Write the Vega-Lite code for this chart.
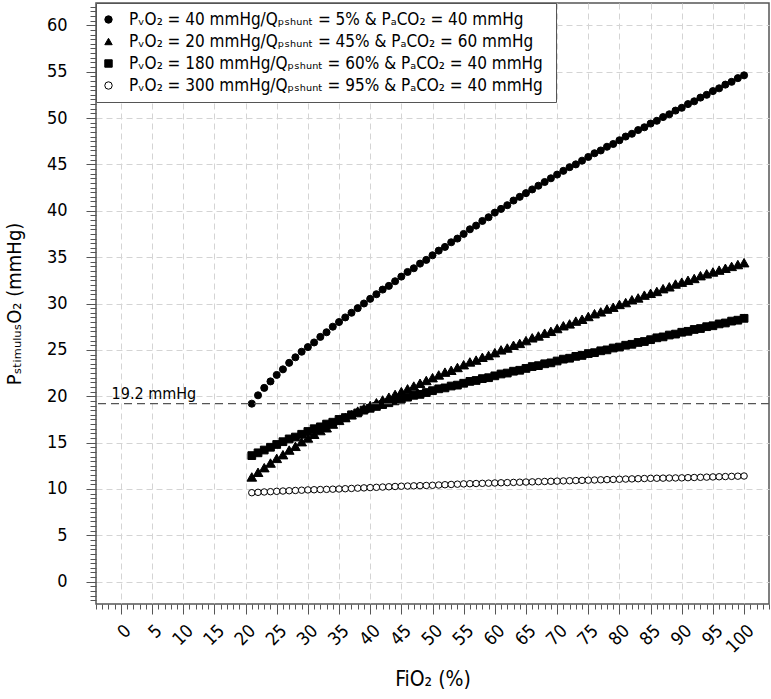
{
"$schema":"https://vega.github.io/schema/vega-lite/v6.json",
"width":673,"height":601,
"autosize":{"type":"none"},
"padding":{"left":96,"top":3,"right":2,"bottom":95},
"config":{
 "font":"DejaVu Sans Condensed, DejaVu Sans, sans-serif",
 "view":{"stroke":"#555","strokeWidth":1.5},
 "axis":{"domain":false,"labelColor":"#000","titleColor":"#000","tickColor":"#555","gridColor":"#d4d4d4","gridDash":[6,4],"gridWidth":1,"titleFontWeight":"normal"},
 "legend":{"orient":"top-left","offset":0,"padding":8,"fillColor":"#fff","strokeColor":"#555","labelFontSize":17,"labelLimit":1000,"rowPadding":4,"labelOffset":12,"symbolOffset":-4,"symbolSize":55,"symbolStrokeWidth":1}
},
"data":{"values":[
{"f":21,"s":"a","v":19.2},{"f":22,"s":"a","v":20.1},{"f":23,"s":"a","v":20.9},{"f":24,"s":"a","v":21.6},{"f":25,"s":"a","v":22.3},{"f":26,"s":"a","v":22.9},{"f":27,"s":"a","v":23.6},{"f":28,"s":"a","v":24.2},{"f":29,"s":"a","v":24.8},{"f":30,"s":"a","v":25.3},
{"f":31,"s":"a","v":25.8},{"f":32,"s":"a","v":26.4},{"f":33,"s":"a","v":26.9},{"f":34,"s":"a","v":27.5},{"f":35,"s":"a","v":28.0},{"f":36,"s":"a","v":28.5},{"f":37,"s":"a","v":29.0},{"f":38,"s":"a","v":29.5},{"f":39,"s":"a","v":30.0},{"f":40,"s":"a","v":30.5},
{"f":41,"s":"a","v":31.0},{"f":42,"s":"a","v":31.5},{"f":43,"s":"a","v":31.9},{"f":44,"s":"a","v":32.4},{"f":45,"s":"a","v":32.9},{"f":46,"s":"a","v":33.4},{"f":47,"s":"a","v":33.8},{"f":48,"s":"a","v":34.3},{"f":49,"s":"a","v":34.7},{"f":50,"s":"a","v":35.2},
{"f":51,"s":"a","v":35.7},{"f":52,"s":"a","v":36.1},{"f":53,"s":"a","v":36.6},{"f":54,"s":"a","v":37.0},{"f":55,"s":"a","v":37.5},{"f":56,"s":"a","v":38.0},{"f":57,"s":"a","v":38.4},{"f":58,"s":"a","v":38.9},{"f":59,"s":"a","v":39.3},{"f":60,"s":"a","v":39.8},
{"f":61,"s":"a","v":40.2},{"f":62,"s":"a","v":40.6},{"f":63,"s":"a","v":41.1},{"f":64,"s":"a","v":41.5},{"f":65,"s":"a","v":41.9},{"f":66,"s":"a","v":42.3},{"f":67,"s":"a","v":42.7},{"f":68,"s":"a","v":43.1},{"f":69,"s":"a","v":43.5},{"f":70,"s":"a","v":43.9},
{"f":71,"s":"a","v":44.3},{"f":72,"s":"a","v":44.7},{"f":73,"s":"a","v":45.0},{"f":74,"s":"a","v":45.4},{"f":75,"s":"a","v":45.8},{"f":76,"s":"a","v":46.2},{"f":77,"s":"a","v":46.5},{"f":78,"s":"a","v":46.9},{"f":79,"s":"a","v":47.2},{"f":80,"s":"a","v":47.6},
{"f":81,"s":"a","v":48.0},{"f":82,"s":"a","v":48.3},{"f":83,"s":"a","v":48.7},{"f":84,"s":"a","v":49.0},{"f":85,"s":"a","v":49.4},{"f":86,"s":"a","v":49.7},{"f":87,"s":"a","v":50.1},{"f":88,"s":"a","v":50.4},{"f":89,"s":"a","v":50.8},{"f":90,"s":"a","v":51.1},
{"f":91,"s":"a","v":51.5},{"f":92,"s":"a","v":51.8},{"f":93,"s":"a","v":52.2},{"f":94,"s":"a","v":52.5},{"f":95,"s":"a","v":52.9},{"f":96,"s":"a","v":53.2},{"f":97,"s":"a","v":53.6},{"f":98,"s":"a","v":53.9},{"f":99,"s":"a","v":54.3},{"f":100,"s":"a","v":54.6},
{"f":21,"s":"b","v":11.3},{"f":22,"s":"b","v":11.8},{"f":23,"s":"b","v":12.3},{"f":24,"s":"b","v":12.8},{"f":25,"s":"b","v":13.3},{"f":26,"s":"b","v":13.7},{"f":27,"s":"b","v":14.2},{"f":28,"s":"b","v":14.6},{"f":29,"s":"b","v":15.1},{"f":30,"s":"b","v":15.5},
{"f":31,"s":"b","v":15.9},{"f":32,"s":"b","v":16.3},{"f":33,"s":"b","v":16.6},{"f":34,"s":"b","v":17.0},{"f":35,"s":"b","v":17.4},{"f":36,"s":"b","v":17.7},{"f":37,"s":"b","v":18.0},{"f":38,"s":"b","v":18.4},{"f":39,"s":"b","v":18.7},{"f":40,"s":"b","v":19.0},
{"f":41,"s":"b","v":19.3},{"f":42,"s":"b","v":19.6},{"f":43,"s":"b","v":19.9},{"f":44,"s":"b","v":20.2},{"f":45,"s":"b","v":20.5},{"f":46,"s":"b","v":20.8},{"f":47,"s":"b","v":21.1},{"f":48,"s":"b","v":21.4},{"f":49,"s":"b","v":21.7},{"f":50,"s":"b","v":22.0},
{"f":51,"s":"b","v":22.3},{"f":52,"s":"b","v":22.6},{"f":53,"s":"b","v":22.8},{"f":54,"s":"b","v":23.1},{"f":55,"s":"b","v":23.4},{"f":56,"s":"b","v":23.7},{"f":57,"s":"b","v":23.9},{"f":58,"s":"b","v":24.2},{"f":59,"s":"b","v":24.4},{"f":60,"s":"b","v":24.7},
{"f":61,"s":"b","v":25.0},{"f":62,"s":"b","v":25.2},{"f":63,"s":"b","v":25.5},{"f":64,"s":"b","v":25.7},{"f":65,"s":"b","v":26.0},{"f":66,"s":"b","v":26.3},{"f":67,"s":"b","v":26.5},{"f":68,"s":"b","v":26.8},{"f":69,"s":"b","v":27.0},{"f":70,"s":"b","v":27.3},
{"f":71,"s":"b","v":27.6},{"f":72,"s":"b","v":27.8},{"f":73,"s":"b","v":28.1},{"f":74,"s":"b","v":28.3},{"f":75,"s":"b","v":28.6},{"f":76,"s":"b","v":28.9},{"f":77,"s":"b","v":29.1},{"f":78,"s":"b","v":29.4},{"f":79,"s":"b","v":29.6},{"f":80,"s":"b","v":29.9},
{"f":81,"s":"b","v":30.1},{"f":82,"s":"b","v":30.4},{"f":83,"s":"b","v":30.6},{"f":84,"s":"b","v":30.9},{"f":85,"s":"b","v":31.1},{"f":86,"s":"b","v":31.3},{"f":87,"s":"b","v":31.6},{"f":88,"s":"b","v":31.8},{"f":89,"s":"b","v":32.1},{"f":90,"s":"b","v":32.3},
{"f":91,"s":"b","v":32.5},{"f":92,"s":"b","v":32.7},{"f":93,"s":"b","v":33.0},{"f":94,"s":"b","v":33.2},{"f":95,"s":"b","v":33.4},{"f":96,"s":"b","v":33.6},{"f":97,"s":"b","v":33.8},{"f":98,"s":"b","v":34.0},{"f":99,"s":"b","v":34.2},{"f":100,"s":"b","v":34.4},
{"f":21,"s":"c","v":13.6},{"f":22,"s":"c","v":13.9},{"f":23,"s":"c","v":14.2},{"f":24,"s":"c","v":14.5},{"f":25,"s":"c","v":14.8},{"f":26,"s":"c","v":15.1},{"f":27,"s":"c","v":15.4},{"f":28,"s":"c","v":15.6},{"f":29,"s":"c","v":15.9},{"f":30,"s":"c","v":16.2},
{"f":31,"s":"c","v":16.5},{"f":32,"s":"c","v":16.7},{"f":33,"s":"c","v":17.0},{"f":34,"s":"c","v":17.2},{"f":35,"s":"c","v":17.5},{"f":36,"s":"c","v":17.7},{"f":37,"s":"c","v":18.0},{"f":38,"s":"c","v":18.2},{"f":39,"s":"c","v":18.5},{"f":40,"s":"c","v":18.7},
{"f":41,"s":"c","v":18.9},{"f":42,"s":"c","v":19.1},{"f":43,"s":"c","v":19.3},{"f":44,"s":"c","v":19.5},{"f":45,"s":"c","v":19.7},{"f":46,"s":"c","v":19.9},{"f":47,"s":"c","v":20.1},{"f":48,"s":"c","v":20.2},{"f":49,"s":"c","v":20.4},{"f":50,"s":"c","v":20.6},
{"f":51,"s":"c","v":20.8},{"f":52,"s":"c","v":20.9},{"f":53,"s":"c","v":21.1},{"f":54,"s":"c","v":21.2},{"f":55,"s":"c","v":21.4},{"f":56,"s":"c","v":21.6},{"f":57,"s":"c","v":21.7},{"f":58,"s":"c","v":21.9},{"f":59,"s":"c","v":22.0},{"f":60,"s":"c","v":22.2},
{"f":61,"s":"c","v":22.4},{"f":62,"s":"c","v":22.5},{"f":63,"s":"c","v":22.7},{"f":64,"s":"c","v":22.8},{"f":65,"s":"c","v":23.0},{"f":66,"s":"c","v":23.2},{"f":67,"s":"c","v":23.3},{"f":68,"s":"c","v":23.5},{"f":69,"s":"c","v":23.6},{"f":70,"s":"c","v":23.8},
{"f":71,"s":"c","v":24.0},{"f":72,"s":"c","v":24.1},{"f":73,"s":"c","v":24.3},{"f":74,"s":"c","v":24.4},{"f":75,"s":"c","v":24.6},{"f":76,"s":"c","v":24.7},{"f":77,"s":"c","v":24.9},{"f":78,"s":"c","v":25.0},{"f":79,"s":"c","v":25.2},{"f":80,"s":"c","v":25.3},
{"f":81,"s":"c","v":25.5},{"f":82,"s":"c","v":25.6},{"f":83,"s":"c","v":25.8},{"f":84,"s":"c","v":25.9},{"f":85,"s":"c","v":26.1},{"f":86,"s":"c","v":26.3},{"f":87,"s":"c","v":26.4},{"f":88,"s":"c","v":26.6},{"f":89,"s":"c","v":26.7},{"f":90,"s":"c","v":26.9},
{"f":91,"s":"c","v":27.0},{"f":92,"s":"c","v":27.2},{"f":93,"s":"c","v":27.3},{"f":94,"s":"c","v":27.5},{"f":95,"s":"c","v":27.6},{"f":96,"s":"c","v":27.8},{"f":97,"s":"c","v":27.9},{"f":98,"s":"c","v":28.1},{"f":99,"s":"c","v":28.2},{"f":100,"s":"c","v":28.4},
{"f":21,"s":"d","v":9.6},{"f":22,"s":"d","v":9.64},{"f":23,"s":"d","v":9.68},{"f":24,"s":"d","v":9.71},{"f":25,"s":"d","v":9.75},{"f":26,"s":"d","v":9.78},{"f":27,"s":"d","v":9.81},{"f":28,"s":"d","v":9.84},{"f":29,"s":"d","v":9.87},{"f":30,"s":"d","v":9.9},
{"f":31,"s":"d","v":9.92},{"f":32,"s":"d","v":9.94},{"f":33,"s":"d","v":9.96},{"f":34,"s":"d","v":9.98},{"f":35,"s":"d","v":10.0},{"f":36,"s":"d","v":10.03},{"f":37,"s":"d","v":10.06},{"f":38,"s":"d","v":10.09},{"f":39,"s":"d","v":10.12},{"f":40,"s":"d","v":10.15},
{"f":41,"s":"d","v":10.18},{"f":42,"s":"d","v":10.21},{"f":43,"s":"d","v":10.24},{"f":44,"s":"d","v":10.27},{"f":45,"s":"d","v":10.3},{"f":46,"s":"d","v":10.32},{"f":47,"s":"d","v":10.34},{"f":48,"s":"d","v":10.36},{"f":49,"s":"d","v":10.38},{"f":50,"s":"d","v":10.4},
{"f":51,"s":"d","v":10.43},{"f":52,"s":"d","v":10.46},{"f":53,"s":"d","v":10.49},{"f":54,"s":"d","v":10.52},{"f":55,"s":"d","v":10.55},{"f":56,"s":"d","v":10.57},{"f":57,"s":"d","v":10.59},{"f":58,"s":"d","v":10.61},{"f":59,"s":"d","v":10.63},{"f":60,"s":"d","v":10.65},
{"f":61,"s":"d","v":10.67},{"f":62,"s":"d","v":10.69},{"f":63,"s":"d","v":10.71},{"f":64,"s":"d","v":10.73},{"f":65,"s":"d","v":10.75},{"f":66,"s":"d","v":10.77},{"f":67,"s":"d","v":10.79},{"f":68,"s":"d","v":10.81},{"f":69,"s":"d","v":10.83},{"f":70,"s":"d","v":10.85},
{"f":71,"s":"d","v":10.87},{"f":72,"s":"d","v":10.89},{"f":73,"s":"d","v":10.91},{"f":74,"s":"d","v":10.93},{"f":75,"s":"d","v":10.95},{"f":76,"s":"d","v":10.97},{"f":77,"s":"d","v":10.99},{"f":78,"s":"d","v":11.01},{"f":79,"s":"d","v":11.03},{"f":80,"s":"d","v":11.05},
{"f":81,"s":"d","v":11.07},{"f":82,"s":"d","v":11.09},{"f":83,"s":"d","v":11.11},{"f":84,"s":"d","v":11.13},{"f":85,"s":"d","v":11.15},{"f":86,"s":"d","v":11.16},{"f":87,"s":"d","v":11.17},{"f":88,"s":"d","v":11.18},{"f":89,"s":"d","v":11.19},{"f":90,"s":"d","v":11.2},
{"f":91,"s":"d","v":11.22},{"f":92,"s":"d","v":11.24},{"f":93,"s":"d","v":11.26},{"f":94,"s":"d","v":11.28},{"f":95,"s":"d","v":11.3},{"f":96,"s":"d","v":11.32},{"f":97,"s":"d","v":11.34},{"f":98,"s":"d","v":11.36},{"f":99,"s":"d","v":11.38},{"f":100,"s":"d","v":11.4}
]},
"resolve":{"axis":{"x":"independent","y":"independent"}},
"layer":[
 {"mark":{"type":"point","filled":true,"strokeWidth":1,"opacity":1},
  "encoding":{
   "x":{"field":"f","type":"quantitative","scale":{"domain":[-4,104],"nice":false,"zero":false},
        "axis":{"orient":"bottom","values":[0,5,10,15,20,25,30,35,40,45,50,55,60,65,70,75,80,85,90,95,100],"grid":true,"tickSize":10,"labelFontSize":18,"labelAngle":-45,"labelAlign":"right","labelBaseline":"middle","labelPadding":14,"labelOffset":7,"labelOverlap":false,"labelFlush":false,"title":"FiO₂ (%)","titleFontSize":21,"titlePadding":12}},
   "y":{"field":"v","type":"quantitative","scale":{"domain":[-2.4,62.4],"nice":false,"zero":false},
        "axis":{"orient":"left","values":[0,5,10,15,20,25,30,35,40,45,50,55,60],"grid":true,"tickSize":10,"labelFontSize":18,"labelPadding":19,"labelOverlap":false,"title":"PₛₜᵢₘᵤₗᵤₛO₂ (mmHg)","titleFontSize":20,"titlePadding":22}},
   "size":{"condition":[{"test":"datum.s == 'b'","value":95},{"test":"datum.s == 'c'","value":60},{"test":"datum.s == 'd'","value":42}],"value":50},
   "shape":{"field":"s","type":"nominal","scale":{"domain":["a","b","c","d"],"range":["circle","triangle-up","square","circle"]},
     "legend":{"title":null,
       "labelExpr":"datum.value == 'a' ? 'PᵥO₂ =  40 mmHg/Qₚₛₕᵤₙₜ = 5% & PₐCO₂ = 40 mmHg' : datum.value == 'b' ? 'PᵥO₂ =  20 mmHg/Qₚₛₕᵤₙₜ = 45% & PₐCO₂ = 60 mmHg' : datum.value == 'c' ? 'PᵥO₂ =  180 mmHg/Qₚₛₕᵤₙₜ = 60% & PₐCO₂ = 40 mmHg' : 'PᵥO₂ =  300 mmHg/Qₚₛₕᵤₙₜ = 95% & PₐCO₂ = 40 mmHg'"}},
   "fill":{"field":"s","type":"nominal","scale":{"domain":["a","b","c","d"],"range":["#000","#000","#000","#fff"]},
     "legend":{"title":null,
       "labelExpr":"datum.value == 'a' ? 'PᵥO₂ =  40 mmHg/Qₚₛₕᵤₙₜ = 5% & PₐCO₂ = 40 mmHg' : datum.value == 'b' ? 'PᵥO₂ =  20 mmHg/Qₚₛₕᵤₙₜ = 45% & PₐCO₂ = 60 mmHg' : datum.value == 'c' ? 'PᵥO₂ =  180 mmHg/Qₚₛₕᵤₙₜ = 60% & PₐCO₂ = 40 mmHg' : 'PᵥO₂ =  300 mmHg/Qₚₛₕᵤₙₜ = 95% & PₐCO₂ = 40 mmHg'"}},
   "stroke":{"field":"s","type":"nominal","scale":{"domain":["a","b","c","d"],"range":["#000","#000","#000","#000"]},
     "legend":{"title":null,
       "labelExpr":"datum.value == 'a' ? 'PᵥO₂ =  40 mmHg/Qₚₛₕᵤₙₜ = 5% & PₐCO₂ = 40 mmHg' : datum.value == 'b' ? 'PᵥO₂ =  20 mmHg/Qₚₛₕᵤₙₜ = 45% & PₐCO₂ = 60 mmHg' : datum.value == 'c' ? 'PᵥO₂ =  180 mmHg/Qₚₛₕᵤₙₜ = 60% & PₐCO₂ = 40 mmHg' : 'PᵥO₂ =  300 mmHg/Qₚₛₕᵤₙₜ = 95% & PₐCO₂ = 40 mmHg'"}}
  }},
 {"mark":{"type":"point","opacity":0},
  "encoding":{
   "x":{"field":"f","type":"quantitative","axis":{"orient":"bottom","grid":false,"labels":false,"tickSize":5,"title":null,
     "values":[-4,-3,-2,-1,0,1,2,3,4,5,6,7,8,9,10,11,12,13,14,15,16,17,18,19,20,21,22,23,24,25,26,27,28,29,30,31,32,33,34,35,36,37,38,39,40,41,42,43,44,45,46,47,48,49,50,51,52,53,54,55,56,57,58,59,60,61,62,63,64,65,66,67,68,69,70,71,72,73,74,75,76,77,78,79,80,81,82,83,84,85,86,87,88,89,90,91,92,93,94,95,96,97,98,99,100,101,102,103,104]}},
   "y":{"field":"v","type":"quantitative","axis":{"orient":"left","grid":false,"labels":false,"tickSize":6,"title":null,
     "values":[-2,-1.5,-1,-0.5,0,0.5,1,1.5,2,2.5,3,3.5,4,4.5,5,5.5,6,6.5,7,7.5,8,8.5,9,9.5,10,10.5,11,11.5,12,12.5,13,13.5,14,14.5,15,15.5,16,16.5,17,17.5,18,18.5,19,19.5,20,20.5,21,21.5,22,22.5,23,23.5,24,24.5,25,25.5,26,26.5,27,27.5,28,28.5,29,29.5,30,30.5,31,31.5,32,32.5,33,33.5,34,34.5,35,35.5,36,36.5,37,37.5,38,38.5,39,39.5,40,40.5,41,41.5,42,42.5,43,43.5,44,44.5,45,45.5,46,46.5,47,47.5,48,48.5,49,49.5,50,50.5,51,51.5,52,52.5,53,53.5,54,54.5,55,55.5,56,56.5,57,57.5,58,58.5,59,59.5,60,60.5,61,61.5,62]}}
  }},
 {"data":{"values":[{}]},
  "mark":{"type":"rule","color":"#555","strokeDash":[8,5],"strokeWidth":1.3},
  "encoding":{"y":{"datum":19.2,"type":"quantitative","axis":null}}},
 {"data":{"values":[{}]},
  "mark":{"type":"text","text":"19.2 mmHg","fontSize":16,"align":"left","baseline":"alphabetic","dy":-5,"color":"#000"},
  "encoding":{"x":{"datum":-1.5,"type":"quantitative","axis":null},"y":{"datum":19.2,"type":"quantitative","axis":null}}}
]
}
